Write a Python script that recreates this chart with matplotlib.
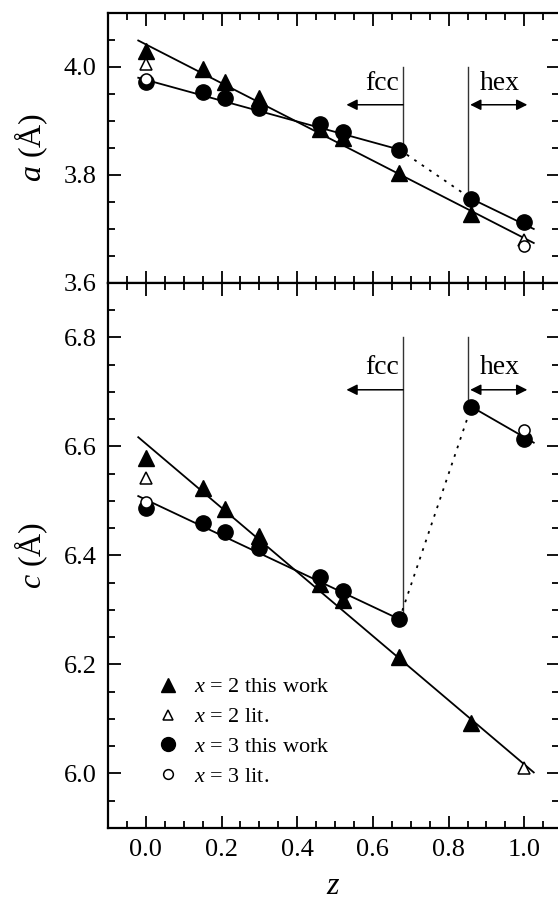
import numpy as np
import matplotlib
matplotlib.use('Agg')
import matplotlib.pyplot as plt
from matplotlib.ticker import MultipleLocator

plt.rcParams['font.family'] = ['Liberation Serif', 'DejaVu Serif']
plt.rcParams['mathtext.fontset'] = 'custom'
plt.rcParams['mathtext.rm'] = 'Liberation Serif'
plt.rcParams['mathtext.it'] = 'Liberation Serif:italic'

# measured lattice parameters vs z
z_x2 = [0.0, 0.15, 0.21, 0.30, 0.46, 0.52, 0.67, 0.86]
a_x2 = [4.030, 3.996, 3.972, 3.942, 3.885, 3.868, 3.803, 3.728]
c_x2 = [6.578, 6.524, 6.485, 6.435, 6.348, 6.318, 6.214, 6.092]

z_x2_lit = [0.0, 1.0]
a_x2_lit = [4.006, 3.680]
c_x2_lit = [6.543, 6.011]

z_x3 = [0.0, 0.15, 0.21, 0.30, 0.46, 0.52, 0.67, 0.86, 1.0]
a_x3 = [3.972, 3.953, 3.942, 3.924, 3.894, 3.879, 3.847, 3.756, 3.712]
c_x3 = [6.487, 6.460, 6.443, 6.413, 6.360, 6.334, 6.283, 6.673, 6.613]

z_x3_lit = [0.0, 1.0]
a_x3_lit = [3.977, 3.668]
c_x3_lit = [6.498, 6.631]

# fitted lines (end points)
fit_x2_z = [-0.02, 1.025]
fit_x2_a = [4.049, 3.674]
fit_x2_c = [6.617, 6.002]

fit_fcc_z = [-0.02, 0.67]
fit_fcc_a = [3.980, 3.847]
fit_fcc_c = [6.509, 6.283]

fit_hex_z = [0.86, 1.025]
fit_hex_a = [3.756, 3.700]
fit_hex_c = [6.673, 6.607]

z_fcc = 0.68
z_hex = 0.852

fig = plt.figure(figsize=(5.58, 9.0), dpi=100)
ax1 = fig.add_axes([0.1935, 0.6856, 0.8085, 0.3])
ax2 = fig.add_axes([0.1935, 0.08, 0.8085, 0.6056])


def style_axis(ax, ylim, ylabel):
    ax.set_xlim(-0.1, 1.092)
    ax.set_ylim(*ylim)
    ax.xaxis.set_major_locator(MultipleLocator(0.2))
    ax.xaxis.set_minor_locator(MultipleLocator(0.05))
    ax.yaxis.set_major_locator(MultipleLocator(0.2))
    ax.yaxis.set_minor_locator(MultipleLocator(0.05))
    ax.tick_params(which='both', direction='in', top=True, right=True, width=1.3)
    ax.tick_params(which='major', length=9, labelsize=19, pad=8)
    ax.tick_params(which='minor', length=5)
    for s in ax.spines.values():
        s.set_linewidth(1.6)
    ax.set_ylabel(ylabel, fontsize=23, labelpad=10)


def draw_panel(ax, y2, y2lit, y3, y3lit, f2, ffcc, fhex):
    ax.plot(fit_x2_z, f2, color='black', lw=1.3, zorder=2)
    ax.plot(fit_fcc_z, ffcc, color='black', lw=1.3, zorder=2)
    ax.plot(fit_hex_z, fhex, color='black', lw=1.3, zorder=2)
    ax.plot([z_x3[6], z_x3[7]], [y3[6], y3[7]], color='black', lw=1.3, ls=(0, (1.5, 3.5)), zorder=2)
    ax.plot(z_x2, y2, ls='none', marker='^', ms=11, color='black', zorder=3)
    ax.plot(z_x3, y3, ls='none', marker='o', ms=11, color='black', zorder=3)
    ax.plot(z_x2_lit, y2lit, ls='none', marker='^', ms=8, mfc='white', mec='black', mew=1.1, zorder=4)
    ax.plot(z_x3_lit, y3lit, ls='none', marker='o', ms=8, mfc='white', mec='black', mew=1.1, zorder=4)


def draw_phases(ax, top, fcc_bot, hex_bot, arrow_y, text_y):
    ax.plot([z_fcc, z_fcc], [top, fcc_bot], color='#333333', lw=1.0, zorder=1)
    ax.plot([z_hex, z_hex], [top, hex_bot], color='#333333', lw=1.0, zorder=1)
    ax.annotate('', xy=(0.53, arrow_y), xytext=(z_fcc, arrow_y),
                arrowprops=dict(arrowstyle='-|>', color='black', lw=1.1, mutation_scale=16, shrinkA=0, shrinkB=0))
    ax.annotate('', xy=(1.008, arrow_y), xytext=(z_hex + 0.005, arrow_y),
                arrowprops=dict(arrowstyle='<|-|>', color='black', lw=1.1, mutation_scale=16, shrinkA=0, shrinkB=0))
    ax.text(z_fcc - 0.01, text_y, 'fcc', fontsize=20, ha='right', va='center')
    ax.text(0.936, text_y, 'hex', fontsize=20, ha='center', va='center')


style_axis(ax1, (3.6, 4.1), '$a$ (Å)')
style_axis(ax2, (5.9, 6.9), '$c$ (Å)')
ax1.tick_params(labelbottom=False)

draw_panel(ax1, a_x2, a_x2_lit, a_x3, a_x3_lit, fit_x2_a, fit_fcc_a, fit_hex_a)
draw_panel(ax2, c_x2, c_x2_lit, c_x3, c_x3_lit, fit_x2_c, fit_fcc_c, fit_hex_c)

draw_phases(ax1, 4.0, 3.86, 3.77, 3.93, 3.97)
draw_phases(ax2, 6.8, 6.29, 6.68, 6.704, 6.745)

ax2.set_xlabel('$z$', fontsize=23, labelpad=8)

# legend
h1, = ax2.plot([], [], ls='none', marker='^', ms=10, color='black')
h2, = ax2.plot([], [], ls='none', marker='^', ms=7, mfc='white', mec='black', mew=1.1)
h3, = ax2.plot([], [], ls='none', marker='o', ms=10, color='black')
h4, = ax2.plot([], [], ls='none', marker='o', ms=7, mfc='white', mec='black', mew=1.1)
ax2.legend([h1, h2, h3, h4],
           ['$x$ = 2 this work', '$x$ = 2 lit.', '$x$ = 3 this work', '$x$ = 3 lit.'],
           loc='upper left', bbox_to_anchor=(0.088, 0.2936), frameon=False,
           fontsize=16, handlelength=1.0, handletextpad=0.7, labelspacing=0.42,
           borderaxespad=0)

fig.savefig('out.png', dpi=100)
